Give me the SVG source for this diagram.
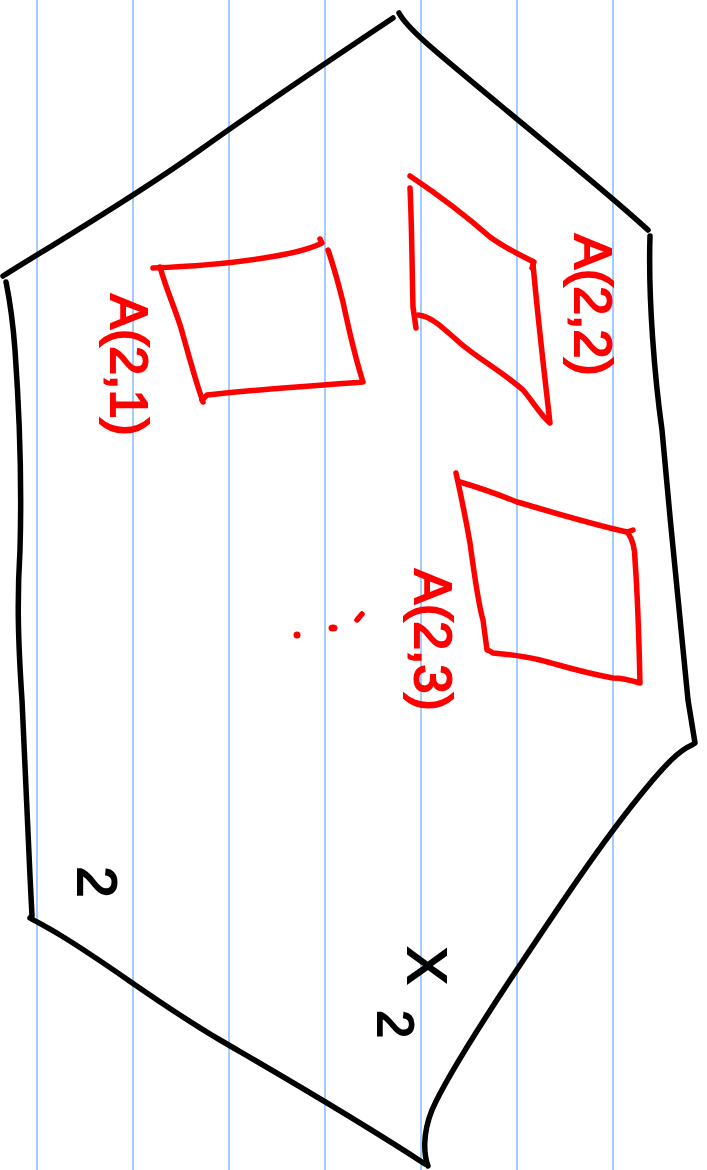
<svg xmlns="http://www.w3.org/2000/svg" width="707" height="1170" viewBox="0 0 707 1170">
  <style>
    .rule { stroke: #a3cbfb; stroke-width: 2; }
    .ink { fill: none; stroke: #000; stroke-width: 5.5; stroke-linecap: round; stroke-linejoin: round; }
    .red { fill: none; stroke: #ff0000; stroke-width: 5.5; stroke-linecap: round; stroke-linejoin: round; }
    .lbl { font-family: "Liberation Sans", "DejaVu Sans", sans-serif; font-size: 52px; fill: #ff0000; stroke: #ff0000; stroke-width: 2; text-anchor: middle; }
    .blk { font-family: "Liberation Sans", "DejaVu Sans", sans-serif; font-size: 56px; fill: #000; stroke: #000; stroke-width: 2; }
  </style>
  <rect width="707" height="1170" fill="#fff"/>
  <g id="ruling">
    <line class="rule" x1="37" y1="0" x2="37" y2="1170"/>
    <line class="rule" x1="133" y1="0" x2="133" y2="1170"/>
    <line class="rule" x1="229" y1="0" x2="229" y2="1170"/>
    <line class="rule" x1="325" y1="0" x2="325" y2="1170"/>
    <line class="rule" x1="421" y1="0" x2="421" y2="1170"/>
    <line class="rule" x1="517" y1="0" x2="517" y2="1170"/>
    <line class="rule" x1="613" y1="0" x2="613" y2="1170"/>
  </g>
  <g id="region-X2">
    <path class="ink" d="M3,276 C60,240 130,200 200,150 C270,100 330,60 393,18"/>
    <path class="ink" d="M399,13 C408,30 440,55 500,105 C560,155 610,195 648,230"/>
    <path class="ink" d="M650,236 C648,300 655,380 662,430 C670,520 680,620 688,700 L695,743 L692,745 C680,750 667,762 638,798 C600,845 560,905 520,965 C480,1025 445,1080 432,1110 C422,1135 424,1155 428,1166"/>
    <path class="ink" d="M425,1164 C350,1115 280,1075 220,1040 C160,1005 110,965 60,935 C45,926 35,921 30,918"/>
    <path class="ink" d="M32,916 C28,840 25,760 22,700 C18,640 17,600 20,550 C22,480 20,420 15,350 C12,310 8,292 6,282"/>
  </g>
  <g id="chart-A22">
    <path class="red" d="M410,176 C440,196 465,215 490,237 C505,248 520,255 534,262 L532,268"/>
    <path class="red" d="M533,264 C538,320 544,370 550,423 C540,415 532,400 523,390 C500,370 480,360 460,343 C440,325 430,316 418,315"/>
    <path class="red" d="M410,188 C412,230 412,270 413,307 L416,328"/>
  </g>
  <g id="chart-A21">
    <path class="red" d="M153,268 C200,266 240,262 270,257 C295,253 310,249 322,243 L320,239"/>
    <path class="red" d="M328,250 C335,270 340,290 343,302 C350,335 356,360 363,382 C310,386 250,390 207,395 L202,400"/>
    <path class="red" d="M160,267 C168,295 178,315 183,335 C190,360 195,378 200,393 L203,402"/>
  </g>
  <g id="chart-A23">
    <path class="red" d="M460,482 C480,488 500,495 517,502 C555,513 595,525 627,532 L633,530"/>
    <path class="red" d="M628,533 C633,540 635,550 635,560 C638,600 639,640 640,683 C630,680 620,678 613,678 C580,672 560,665 540,660 C520,655 505,654 493,653 L488,650"/>
    <path class="red" d="M456,473 C462,500 466,520 470,543 C475,580 480,610 483,620 L487,650"/>
  </g>
  <g id="ellipsis">
    <circle cx="297" cy="635" r="3.5" fill="#ff0000"/>
    <ellipse cx="333" cy="628" rx="4.5" ry="3.5" fill="#ff0000"/>
    <path class="red" d="M357,620 L362,614"/>
  </g>
  <g id="labels">
    <text class="lbl" transform="translate(575,305) rotate(90)">A(2,2)</text>
    <text class="lbl" transform="translate(111,365) rotate(90)">A(2,1)</text>
    <text class="lbl" transform="translate(415,640) rotate(90)">A(2,3)</text>
    <text class="blk" text-anchor="middle" transform="translate(78,882) rotate(90)">2</text>
    <text class="blk" transform="translate(408,947) rotate(90)">X<tspan dx="26" dy="30" font-size="50">2</tspan></text>
  </g>
</svg>
